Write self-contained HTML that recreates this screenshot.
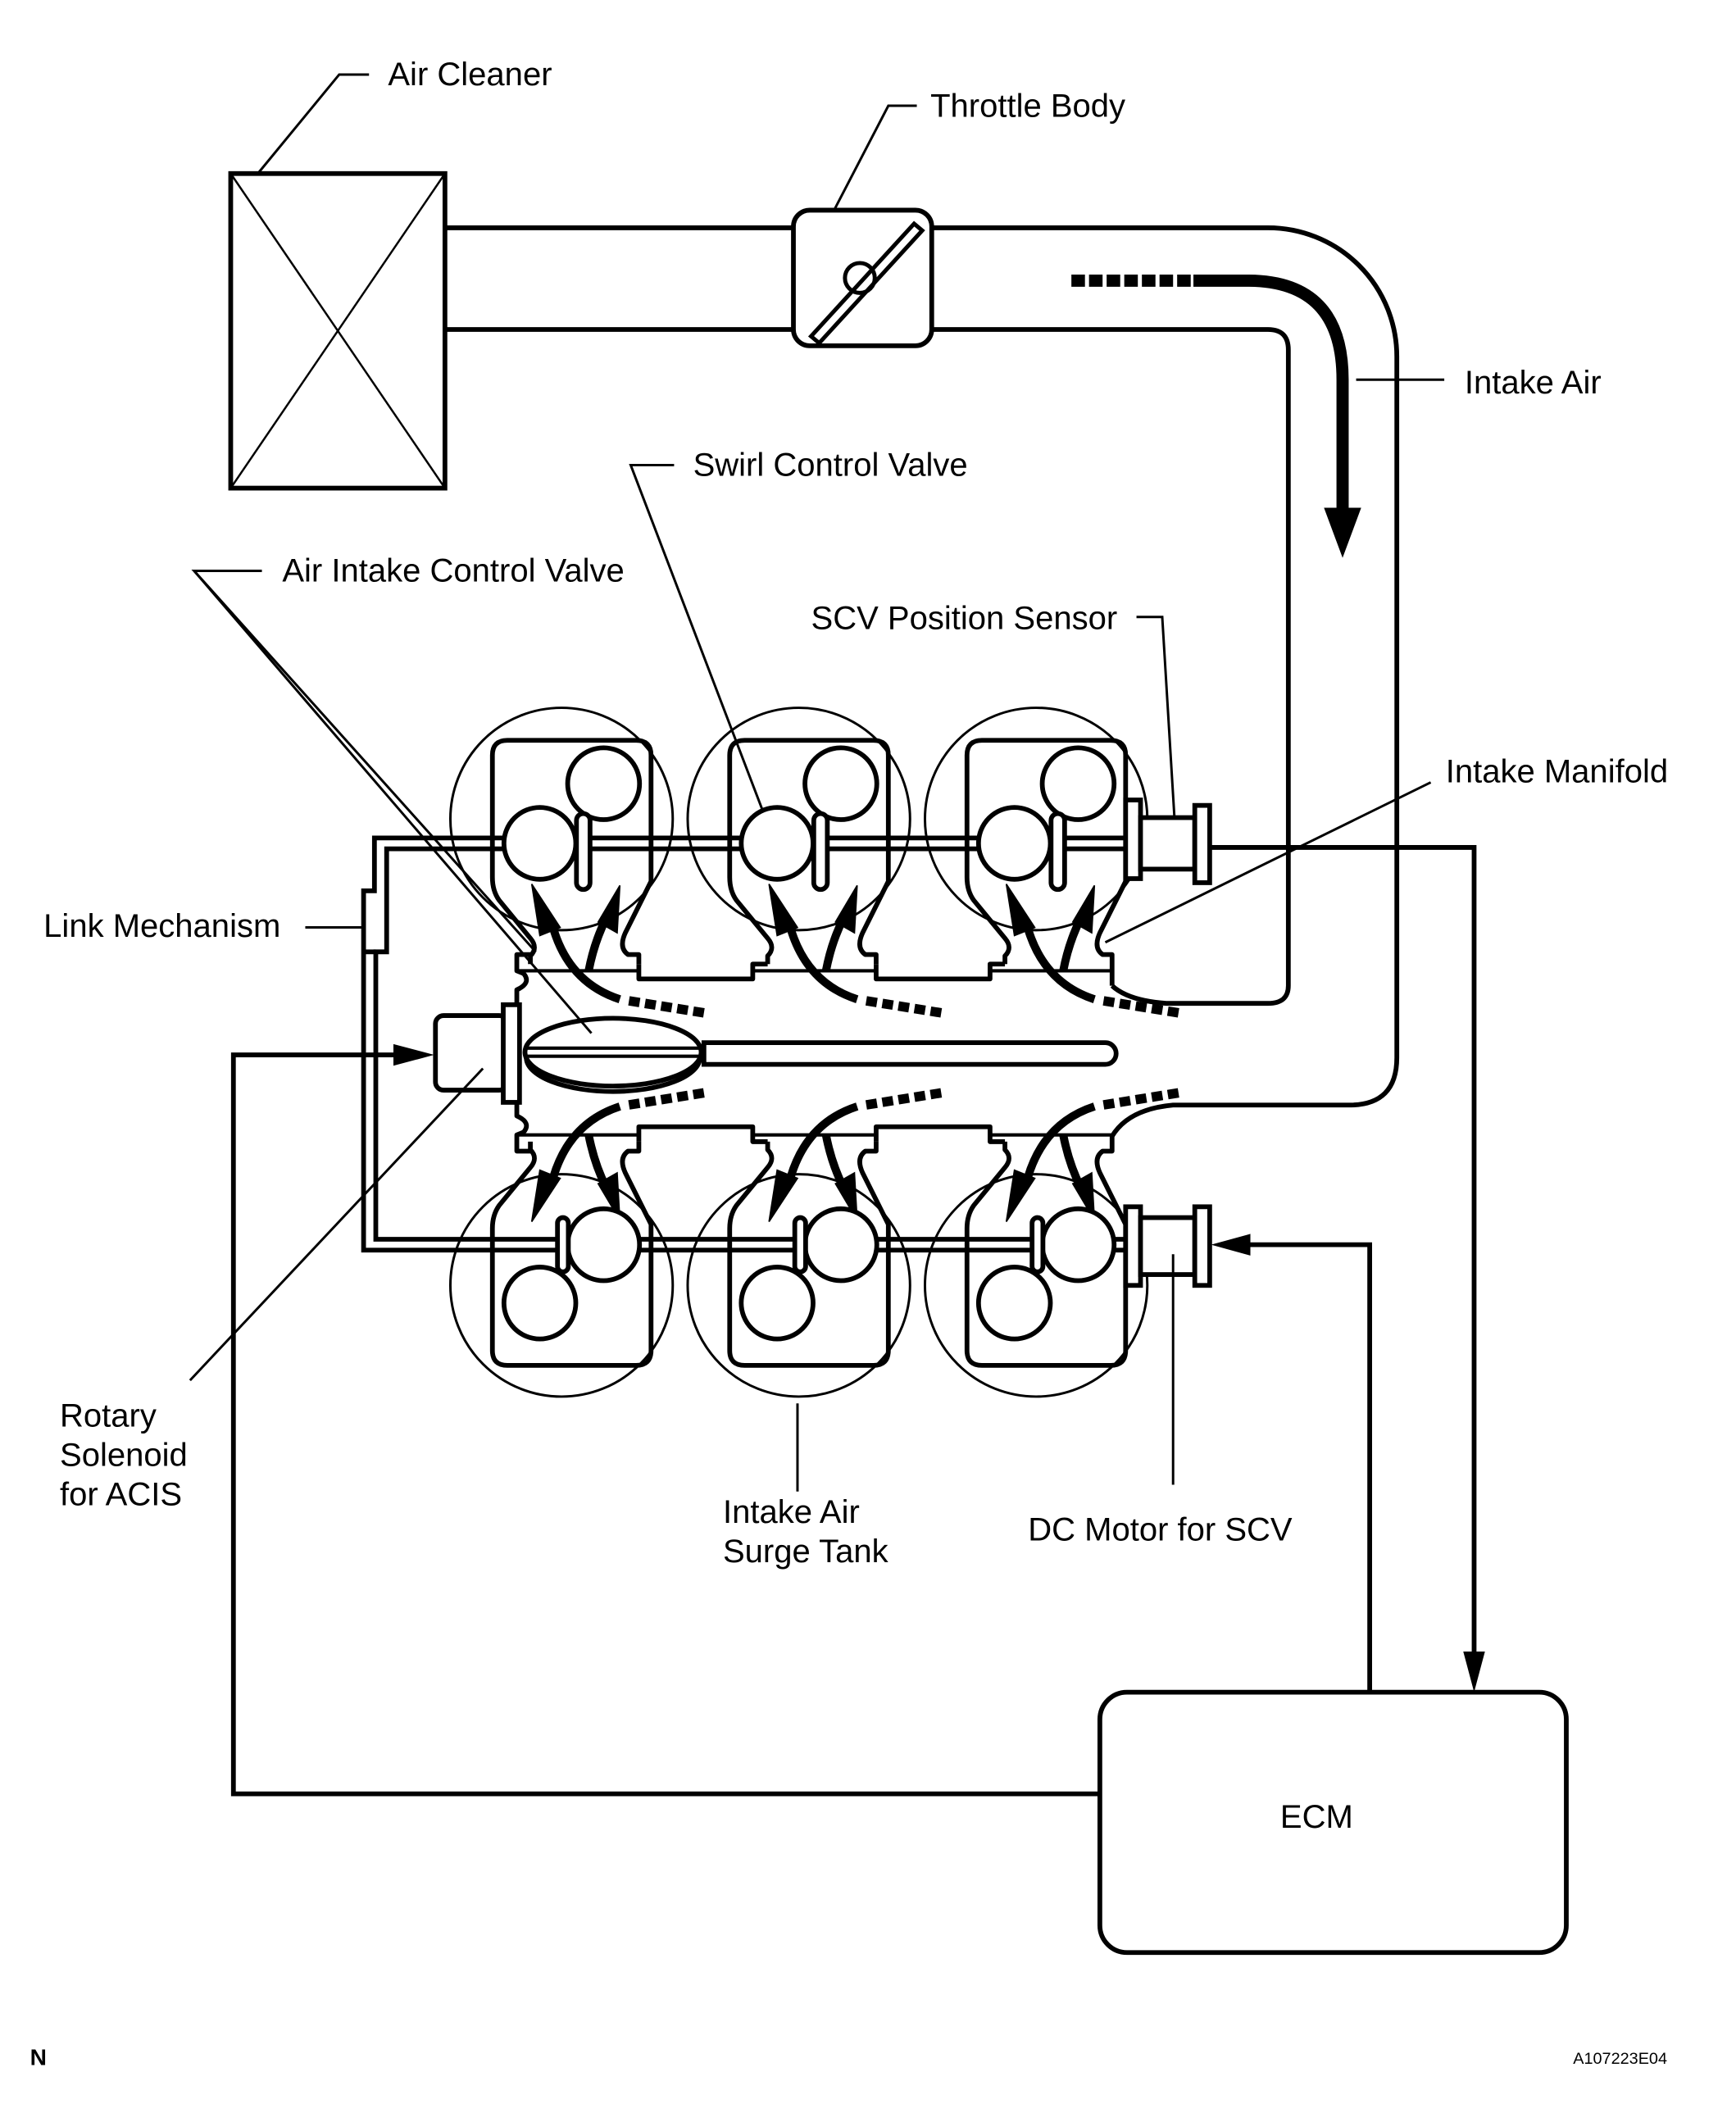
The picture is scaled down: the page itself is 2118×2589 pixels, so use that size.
<!DOCTYPE html>
<html><head><meta charset="utf-8"><style>
html,body{margin:0;padding:0;background:#fff}
svg{display:block}
text{font-family:"Liberation Sans",sans-serif;font-size:24.2px;fill:#000}
</style></head><body>
<svg width="2118" height="2589" viewBox="0 0 1280 1565" xmlns="http://www.w3.org/2000/svg">
<defs>
<g id="topRunner" fill="none" stroke="#000" stroke-width="3.5" stroke-linejoin="round">
  <path d="M391,711 L391,705 Q397,699 391,692 L368,664 Q363,657 363,647 L363,557 Q363,546 374,546 L469,546 Q480,546 480,557 L480,650 L461,688 Q456,699 463,704 L471,704 L471,711"/>
  <path d="M471,711 L471,722 L555,722 L555,711 L566,711"/>
</g>
<g id="arrows" fill="#000" stroke="#000">
  <path d="M457,737 Q420,725 408,685" fill="none" stroke-width="6"/>
  <path d="M519,747 L463,738" fill="none" stroke-width="7" stroke-dasharray="8,4"/>
  <polygon points="392,652 413,684 398,690" stroke-width="1"/>
  <path d="M434,716 Q438,695 447,677" fill="none" stroke-width="6"/>
  <polygon points="457,653 455,688 441,680" stroke-width="1"/>
</g>
<g id="circTop" fill="none" stroke="#000">
  <circle cx="414" cy="604" r="82" stroke-width="1.8"/>
</g>
<g id="valvesTop" fill="#fff" stroke="#000" stroke-width="3.5">
  <circle cx="445" cy="578" r="26.5"/>
  <circle cx="398" cy="622" r="26.5"/>
  <rect x="425" y="600" width="10" height="56" rx="5"/>
</g>
<g id="valvesBot" fill="#fff" stroke="#000" stroke-width="3.5">
  <circle cx="445" cy="918" r="26.5"/>
  <circle cx="398" cy="961" r="26.5"/>
  <rect x="411" y="898" width="8" height="40" rx="4"/>
</g>
</defs>

<g fill="none" stroke="#000">
  <rect x="170" y="128" width="158" height="232" stroke-width="3.5"/>
  <line x1="170" y1="128" x2="328" y2="360" stroke-width="1.5"/>
  <line x1="328" y1="128" x2="170" y2="360" stroke-width="1.5"/>
  <polyline points="190,128 250,55 272,55" stroke-width="1.8"/>
  <path d="M328,168 H585 M687,168 H935 A95,95 0 0 1 1030,263 V780 Q1030,815 995,815 H865 Q832,818 820,838" stroke-width="3.5"/>
  <path d="M328,243 H585 M687,243 H935 Q950,243 950,258 V727 Q950,740 935,740 H860 Q832,738 820,727" stroke-width="3.5"/>
  <rect x="585" y="155" width="102" height="100" rx="12" stroke-width="3.5"/>
  <path d="M598,248 L674,165 L680,170 L604,253 Z" fill="#fff" stroke-width="3"/>
  <circle cx="634" cy="205" r="11" stroke-width="3"/>
  <polyline points="615,155 655,78 676,78" stroke-width="1.8"/>
  <path d="M790,207 H880" stroke-width="9" stroke-dasharray="10,3"/>
  <path d="M880,207 H920 Q990,207 990,280 V380" stroke-width="9"/>
  <polygon points="977,375 1003,375 990,410" fill="#000" stroke="#000"/>
  <line x1="1000" y1="280" x2="1065" y2="280" stroke-width="1.8"/>
</g>

<use href="#circTop"/><use href="#circTop" x="175"/><use href="#circTop" x="350"/>
<use href="#circTop" y="344"/><use href="#circTop" x="175" y="344"/><use href="#circTop" x="350" y="344"/>

<use href="#topRunner"/><use href="#topRunner" x="175"/>
<g fill="none" stroke="#000" stroke-width="3.5" stroke-linejoin="round">
  <path d="M741,711 L741,705 Q747,699 741,692 L718,664 Q713,657 713,647 L713,557 Q713,546 724,546 L819,546 Q830,546 830,557 L830,650 L811,688 Q806,699 813,704 L820,704 L820,727"/>
  <path d="M381,741 L381,730 Q392,725 386,718 L381,716 L381,704 L391,704"/>
  <line x1="381" y1="716" x2="471" y2="716" stroke-width="2.5"/>
  <line x1="555" y1="716" x2="646" y2="716" stroke-width="2.5"/>
  <line x1="730" y1="716" x2="820" y2="716" stroke-width="2.5"/>
</g>
<g transform="translate(0,1553) scale(1,-1)">
  <use href="#topRunner"/><use href="#topRunner" x="175"/>
  <g fill="none" stroke="#000" stroke-width="3.5" stroke-linejoin="round">
    <path d="M741,711 L741,705 Q747,699 741,692 L718,664 Q713,657 713,647 L713,557 Q713,546 724,546 L819,546 Q830,546 830,557 L830,650 L811,688 Q806,699 813,704 L820,704 L820,716"/>
    <path d="M381,741 L381,730 Q392,725 386,718 L381,716 L381,704 L391,704"/>
    <line x1="381" y1="716" x2="471" y2="716" stroke-width="2.5"/>
    <line x1="555" y1="716" x2="646" y2="716" stroke-width="2.5"/>
    <line x1="730" y1="716" x2="820" y2="716" stroke-width="2.5"/>
  </g>
  <use href="#arrows"/><use href="#arrows" x="175"/><use href="#arrows" x="350"/>
</g>
<use href="#arrows"/><use href="#arrows" x="175"/><use href="#arrows" x="350"/>

<g fill="none" stroke="#000" stroke-width="3.5">
  <path d="M830,618 H276 V657 H268 V922 H830"/>
  <path d="M830,626 H285 V702 H277 V914 H830"/>
  <line x1="268" y1="702" x2="277" y2="702"/>
</g>
<use href="#valvesTop"/><use href="#valvesTop" x="175"/><use href="#valvesTop" x="350"/>
<use href="#valvesBot"/><use href="#valvesBot" x="175"/><use href="#valvesBot" x="350"/>

<g stroke="#000" stroke-width="3.5" fill="#fff">
  <rect x="321" y="749" width="53" height="55" rx="6"/>
  <rect x="371" y="741" width="12" height="72"/>
  <ellipse cx="452" cy="780" rx="64" ry="25"/>
  <ellipse cx="452" cy="776" rx="65" ry="25"/>
  <line x1="388" y1="773" x2="516" y2="773" stroke-width="2.5"/>
  <line x1="388" y1="779" x2="516" y2="779" stroke-width="2.5"/>
  <path d="M519,769 H815 A8,8 0 0 1 815,785 H519 Z"/>
</g>

<g stroke="#000" stroke-width="3.5" fill="#fff">
  <rect x="830" y="590" width="11" height="58"/>
  <rect x="841" y="603" width="40" height="38"/>
  <rect x="881" y="594" width="11" height="57"/>
  <rect x="830" y="890" width="11" height="58"/>
  <rect x="841" y="898" width="40" height="42"/>
  <rect x="881" y="890" width="11" height="58"/>
</g>

<g fill="none" stroke="#000" stroke-width="3.5">
  <path d="M892,625 H1087 V1220"/>
  <path d="M1010,1248 V918 H920"/>
  <path d="M811,1323 H172 V778 H292"/>
  <rect x="811" y="1248" width="344" height="192" rx="20"/>
</g>
<g fill="#000">
  <polygon points="1079,1218 1095,1218 1087,1248"/>
  <polygon points="893,918 922,910 922,926"/>
  <polygon points="320,778 290,770 290,786"/>
</g>

<g fill="none" stroke="#000" stroke-width="1.8">
  <polyline points="497,343 465,343 562,597"/>
  <polyline points="193,421 143,421 395,702"/>
  <line x1="143" y1="421" x2="436" y2="762"/>
  <polyline points="838,455 857,455 866,603"/>
  <line x1="1055" y1="577" x2="815" y2="695"/>
  <line x1="225" y1="684" x2="268" y2="684"/>
  <line x1="140" y1="1018" x2="356" y2="788"/>
  <line x1="588" y1="1035" x2="588" y2="1100"/>
  <line x1="865" y1="925" x2="865" y2="1095"/>
</g>

<text x="286" y="63">Air Cleaner</text>
<text x="686" y="86">Throttle Body</text>
<text x="1080" y="290">Intake Air</text>
<text x="511" y="351">Swirl Control Valve</text>
<text x="208" y="429">Air Intake Control Valve</text>
<text x="598" y="464">SCV Position Sensor</text>
<text x="1066" y="577">Intake Manifold</text>
<text x="32" y="691">Link Mechanism</text>
<text x="44" y="1052">Rotary</text>
<text x="44" y="1081">Solenoid</text>
<text x="44" y="1110">for ACIS</text>
<text x="533" y="1123">Intake Air</text>
<text x="533" y="1152">Surge Tank</text>
<text x="758" y="1136">DC Motor for SCV</text>
<text x="944" y="1348">ECM</text>
<text x="22" y="1523" style="font-weight:bold;font-size:17px">N</text>
<text x="1160" y="1522" style="font-size:12px">A107223E04</text>
</svg>
</body></html>
